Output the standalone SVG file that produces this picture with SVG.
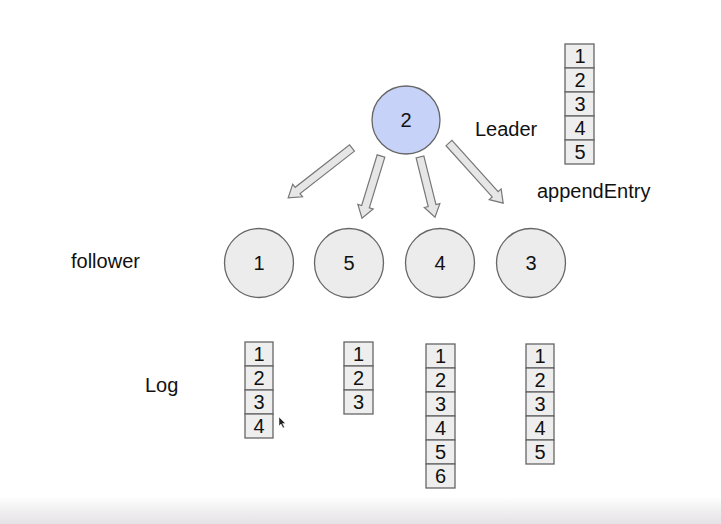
<svg xmlns="http://www.w3.org/2000/svg" width="721" height="524" viewBox="0 0 721 524">
<defs>
<linearGradient id="bot" x1="0" y1="0" x2="0" y2="1">
<stop offset="0" stop-color="#ffffff"/>
<stop offset="1" stop-color="#e4e2e4"/>
</linearGradient>
<style>
text{font-family:"Liberation Sans",Arial,sans-serif;fill:#111}
.lbl{font-size:20px}
.num{font-size:20px;text-anchor:middle}
.cell{fill:#eeeeee;stroke:#666;stroke-width:1.3}
.fol{fill:#ececec;stroke:#666;stroke-width:1.3}
.lead{fill:#c6d2f7;stroke:#666;stroke-width:1.3}
.arr{fill:#e6e6e6;stroke:#777;stroke-width:1.2;stroke-linejoin:miter}
</style>
</defs>
<rect width="721" height="524" fill="#fff"/>
<rect x="0" y="496" width="721" height="28" fill="url(#bot)"/>

<g id="leader">
<circle class="lead" cx="406" cy="120" r="34"/>
<text class="num" x="406" y="127">2</text>
</g>
<text class="lbl" x="475" y="136">Leader</text>

<g id="leader-log">
<rect class="cell" x="565" y="44" width="29" height="24"/><text class="num" x="580" y="63">1</text>
<rect class="cell" x="565" y="68" width="29" height="24"/><text class="num" x="580" y="87">2</text>
<rect class="cell" x="565" y="92" width="29" height="24"/><text class="num" x="580" y="111">3</text>
<rect class="cell" x="565" y="116" width="29" height="24"/><text class="num" x="580" y="135">4</text>
<rect class="cell" x="565" y="140" width="29" height="24"/><text class="num" x="580" y="159">5</text>
</g>
<text class="lbl" x="537" y="198">appendEntry</text>

<g id="connectors">
<path class="arr" transform="translate(352,148) rotate(142)" d="M0,-4 L69,-4 L69,-8 L81,0 L69,8 L69,4 L0,4 Z"/>
<path class="arr" transform="translate(381,156) rotate(107)" d="M0,-4 L53,-4 L53,-8 L65,0 L53,8 L53,4 L0,4 Z"/>
<path class="arr" transform="translate(420,157) rotate(76)" d="M0,-4 L50,-4 L50,-8 L62,0 L50,8 L50,4 L0,4 Z"/>
<path class="arr" transform="translate(449,143) rotate(48)" d="M0,-4 L69,-4 L69,-8 L81,0 L69,8 L69,4 L0,4 Z"/>
</g>

<text class="lbl" x="71" y="268">follower</text>

<g id="f1">
<circle class="fol" cx="259" cy="263" r="34.5"/>
<text class="num" x="259" y="270">1</text>
</g>
<g id="f5">
<circle class="fol" cx="349" cy="263" r="34.5"/>
<text class="num" x="349" y="270">5</text>
</g>
<g id="f4">
<circle class="fol" cx="440" cy="263" r="34.5"/>
<text class="num" x="440" y="270">4</text>
</g>
<g id="f3">
<circle class="fol" cx="531" cy="263" r="34.5"/>
<text class="num" x="531" y="270">3</text>
</g>

<text class="lbl" x="145" y="392">Log</text>

<g id="log1">
<rect class="cell" x="245" y="342" width="28" height="24"/><text class="num" x="259" y="361">1</text>
<rect class="cell" x="245" y="366" width="28" height="24"/><text class="num" x="259" y="385">2</text>
<rect class="cell" x="245" y="390" width="28" height="24"/><text class="num" x="259" y="409">3</text>
<rect class="cell" x="245" y="414" width="28" height="24"/><text class="num" x="259" y="433">4</text>
</g>
<g id="log5">
<rect class="cell" x="344" y="342" width="29" height="24"/><text class="num" x="358.5" y="361">1</text>
<rect class="cell" x="344" y="366" width="29" height="24"/><text class="num" x="358.5" y="385">2</text>
<rect class="cell" x="344" y="390" width="29" height="24"/><text class="num" x="358.5" y="409">3</text>
</g>
<g id="log4">
<rect class="cell" x="426" y="344" width="29" height="24"/><text class="num" x="440.5" y="363">1</text>
<rect class="cell" x="426" y="368" width="29" height="24"/><text class="num" x="440.5" y="387">2</text>
<rect class="cell" x="426" y="392" width="29" height="24"/><text class="num" x="440.5" y="411">3</text>
<rect class="cell" x="426" y="416" width="29" height="24"/><text class="num" x="440.5" y="435">4</text>
<rect class="cell" x="426" y="440" width="29" height="24"/><text class="num" x="440.5" y="459">5</text>
<rect class="cell" x="426" y="464" width="29" height="24"/><text class="num" x="440.5" y="483">6</text>
</g>
<g id="log3">
<rect class="cell" x="526" y="344" width="28" height="24"/><text class="num" x="540" y="363">1</text>
<rect class="cell" x="526" y="368" width="28" height="24"/><text class="num" x="540" y="387">2</text>
<rect class="cell" x="526" y="392" width="28" height="24"/><text class="num" x="540" y="411">3</text>
<rect class="cell" x="526" y="416" width="28" height="24"/><text class="num" x="540" y="435">4</text>
<rect class="cell" x="526" y="440" width="28" height="24"/><text class="num" x="540" y="459">5</text>
</g>

<path d="M279,417 L279,426 L281,424 L283,428 L284.5,427.3 L282.6,423.5 L285.5,423.5 Z" fill="#222" stroke="#fff" stroke-width="0.5"/>
</svg>
